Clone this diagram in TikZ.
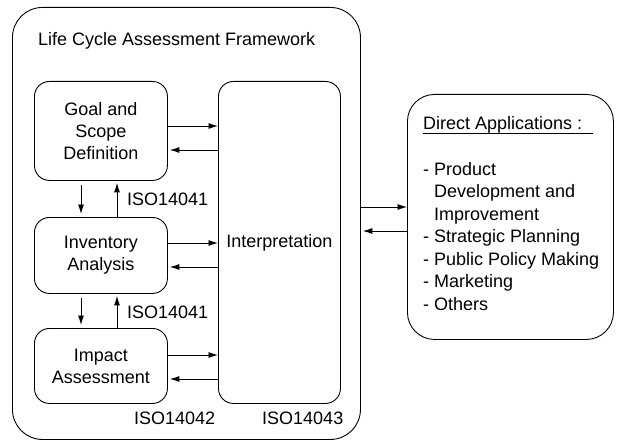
\documentclass[tikz,border=0pt]{standalone}
\usepackage{fontspec}
\setmainfont{Liberation Sans}
\usetikzlibrary{arrows.meta}
\begin{document}
\begin{tikzpicture}[x=1pt,y=-1pt,
  every node/.style={font=\fontsize{18}{22}\selectfont, inner sep=0pt},
  rbox/.style={draw, line width=0.9pt, rounded corners=15pt, anchor=north west, align=center},
  arr/.style={line width=0.9pt, -{Latex[length=9.5pt,width=6pt]}},
  lbl/.style={anchor=base west}]
\useasboundingbox (0,0) rectangle (618,441);
\node[draw, line width=0.9pt, rounded corners=30pt, anchor=north west, minimum width=348pt, minimum height=432pt] (frame) at (12,7) {};
\node[lbl] (title) at (38,46) {Life Cycle Assessment Framework};
\node[rbox, minimum width=133pt, minimum height=99pt] (goal) at (34,81) {Goal and\\Scope\\Definition};
\node[rbox, minimum width=133pt, minimum height=76pt] (inv) at (34,217) {Inventory\\Analysis};
\node[rbox, minimum width=133pt, minimum height=75pt] (imp) at (34,328) {Impact\\Assessment};
\node[rbox, minimum width=122pt, minimum height=322pt] (interp) at (218,81) {Interpretation};
\node[lbl] (iso1) at (127,205) {ISO14041};
\node[lbl] (iso2) at (127,318) {ISO14041};
\node[lbl] (iso3) at (134,424) {ISO14042};
\node[lbl] (iso4) at (262,424) {ISO14043};
% horizontal arrows
\draw[arr] (goal.east |- 0,126) -- (interp.west |- 0,126);
\draw[arr, shorten >=2pt] (interp.west |- 0,150) -- (goal.east |- 0,150);
\draw[arr] (inv.east |- 0,243) -- (interp.west |- 0,243);
\draw[arr, shorten >=2pt] (interp.west |- 0,267) -- (inv.east |- 0,267);
\draw[arr] (imp.east |- 0,355) -- (interp.west |- 0,355);
\draw[arr, shorten >=2pt] (interp.west |- 0,379) -- (imp.east |- 0,379);
% vertical arrows
\draw[arr, shorten <=4pt, shorten >=3pt] (goal.south -| 81,0) -- (inv.north -| 81,0);
\draw[arr, shorten >=2pt] (inv.north -| 117,0) -- (goal.south -| 117,0);
\draw[arr, shorten <=4pt, shorten >=3pt] (inv.south -| 81,0) -- (imp.north -| 81,0);
\draw[arr, shorten >=2pt] (imp.north -| 117,0) -- (inv.south -| 117,0);
% direct applications
\node[rbox, rounded corners=27pt, minimum width=206pt, minimum height=245pt] (direct) at (407,94) {};
\node[lbl] (dhead) at (423,130) {Direct Applications :};
\draw[line width=0.9pt] ([yshift=-3pt]dhead.base west) -- ++(170,0);
\node[anchor=north west, align=left, font=\fontsize{18}{22.5}\selectfont] (dlist) at (423,162)
  {- Product\\\hspace*{11pt}Development and\\\hspace*{11pt}Improvement\\- Strategic Planning\\- Public Policy Making\\- Marketing\\- Others};
\draw[arr] (frame.east |- 0,207) -- (direct.west |- 0,207);
\draw[arr, shorten >=2pt] (direct.west |- 0,231) -- (frame.east |- 0,231);
\end{tikzpicture}
\end{document}
